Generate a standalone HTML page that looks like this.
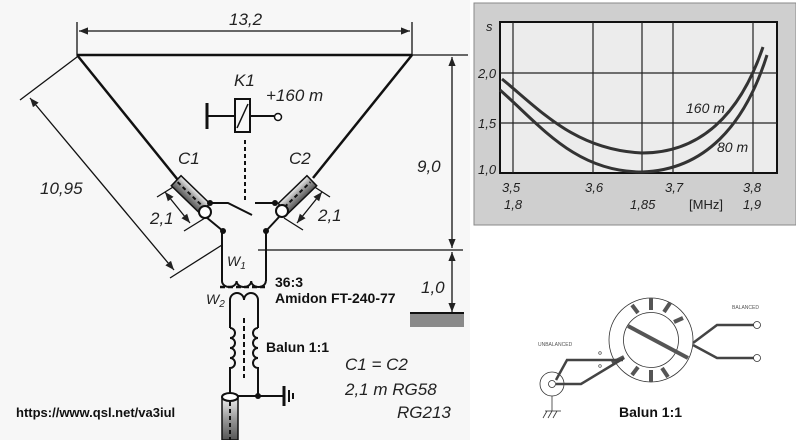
<!DOCTYPE html>
<html><head><meta charset="utf-8"><style>
html,body{margin:0;padding:0;background:#fff;}
svg{display:block;}
text{font-family:"Liberation Sans",sans-serif;}
</style></head><body>
<svg width="796" height="440" viewBox="0 0 796 440" xmlns="http://www.w3.org/2000/svg">
<defs>
<marker id="ar" viewBox="0 0 10 10" refX="10" refY="5" markerWidth="7" markerHeight="7" orient="auto-start-reverse"><path d="M0,1 L10,5 L0,9 z" fill="#222"/></marker>
<linearGradient id="cx" x1="0" y1="0" x2="0" y2="1"><stop offset="0" stop-color="#eee"/><stop offset="0.5" stop-color="#999"/><stop offset="1" stop-color="#555"/></linearGradient>
</defs>
<rect x="0" y="0" width="470" height="440" fill="#f7f7f7"/>
<g stroke="#111" fill="none" stroke-width="1.3">
<!-- top dim -->
<line x1="77" y1="22" x2="77" y2="55"/><line x1="412" y1="22" x2="412" y2="55"/>
<line x1="79" y1="31" x2="410" y2="31" marker-start="url(#ar)" marker-end="url(#ar)"/>
<!-- antenna -->
<line x1="77" y1="55" x2="412" y2="55" stroke-width="2.5"/>
<line x1="77" y1="55" x2="178" y2="180" stroke-width="2.5"/>
<line x1="412" y1="55" x2="313" y2="178" stroke-width="2.5"/>
<line x1="412" y1="55" x2="468" y2="55"/>
<!-- right dims -->
<line x1="452" y1="57" x2="452" y2="248" marker-start="url(#ar)" marker-end="url(#ar)"/>
<line x1="258" y1="250" x2="463" y2="250"/>
<line x1="452" y1="252" x2="452" y2="312" marker-start="url(#ar)" marker-end="url(#ar)"/>
<!-- left dim 10,95 -->
<line x1="77" y1="57" x2="20" y2="100"/>
<line x1="222" y1="245" x2="170" y2="278"/>
<line x1="30" y1="98" x2="174" y2="270" marker-start="url(#ar)" marker-end="url(#ar)"/>
<!-- 2,1 dims -->
<line x1="178" y1="184" x2="157" y2="197"/><line x1="205" y1="218" x2="184" y2="231"/>
<line x1="165" y1="192" x2="190" y2="223" marker-start="url(#ar)" marker-end="url(#ar)"/>
<line x1="310" y1="184" x2="330" y2="197"/><line x1="284" y1="218" x2="303" y2="230"/>
<line x1="322" y1="192" x2="297" y2="223" marker-start="url(#ar)" marker-end="url(#ar)"/>
<!-- relay -->
<rect x="235" y="99" width="15" height="33" stroke-width="2"/>
<line x1="237" y1="128" x2="248" y2="104" stroke-width="1.5"/>
<line x1="207" y1="116" x2="235" y2="116" stroke-width="2"/>
<line x1="207" y1="103" x2="207" y2="129" stroke-width="3"/>
<line x1="250" y1="116" x2="274" y2="116" stroke-width="2"/>
<circle cx="278" cy="117" r="3.5" stroke-width="1.5" fill="#fff"/>
<line x1="245" y1="140" x2="245" y2="200" stroke-width="2" stroke-dasharray="4,3"/>
<!-- switch -->
<polyline points="210,203 228,203 252,215" stroke-width="2"/>
<line x1="255" y1="203" x2="275" y2="203" stroke-width="2"/>
<line x1="206" y1="217" x2="223" y2="231" stroke-width="2"/>
<line x1="279" y1="217" x2="266" y2="231" stroke-width="2"/>
<!-- W1 -->
<path d="M222,231 V281 M266,231 V281 M222,281 a7.3,6 0 0 0 14.6,0 a7.3,6 0 0 0 14.6,0 a7.3,6 0 0 0 14.6,0" stroke-width="2"/>
<line x1="220" y1="287" x2="266" y2="287" stroke-width="2.5" stroke-dasharray="5,3"/>
<!-- W2 -->
<path d="M230,310 V300 a7,7 0 0 1 14,0 a7,7 0 0 1 14,0 V310" stroke-width="2"/>
<path d="M230,310 V328 M258,310 V328" stroke-width="2"/>
<!-- balun coils -->
<path d="M230,328 a5,5 0 0 1 0,10 a5,5 0 0 1 0,10 a5,5 0 0 1 0,10 a5,5 0 0 1 0,10 V395" stroke-width="2"/>
<path d="M258,328 a5,5 0 0 0 0,10 a5,5 0 0 0 0,10 a5,5 0 0 0 0,10 a5,5 0 0 0 0,10 V395" stroke-width="2"/>
<line x1="244" y1="318" x2="244" y2="378" stroke-width="2" stroke-dasharray="5,3"/>
<line x1="230" y1="396" x2="284" y2="396" stroke-width="2"/>
<line x1="284" y1="386" x2="284" y2="406" stroke-width="3"/>
<line x1="289" y1="390" x2="289" y2="402" stroke-width="2"/>
<line x1="293" y1="393" x2="293" y2="399" stroke-width="2"/>
</g>
<!-- coax C1 C2 -->
<g transform="translate(192,196) rotate(44)"><rect x="-22" y="-7" width="40" height="14" fill="url(#cx)" stroke="#111" stroke-width="1.5"/><line x1="-20" y1="0" x2="16" y2="0" stroke="#111" stroke-width="2" stroke-dasharray="4,3"/></g>
<g transform="translate(296,196) rotate(-44)"><rect x="-18" y="-7" width="40" height="14" fill="url(#cx)" stroke="#111" stroke-width="1.5"/><line x1="-16" y1="0" x2="20" y2="0" stroke="#111" stroke-width="2" stroke-dasharray="4,3"/></g>
<circle cx="205" cy="212" r="6" fill="#fff" stroke="#111" stroke-width="2"/>
<circle cx="282" cy="211" r="6" fill="#fff" stroke="#111" stroke-width="2"/>
<g fill="#111"><circle cx="210" cy="203" r="3"/><circle cx="275" cy="203" r="3"/><circle cx="223" cy="231" r="3"/><circle cx="266" cy="231" r="3"/><circle cx="258" cy="396" r="3"/></g>
<!-- bottom coax -->
<rect x="222" y="398" width="16" height="42" fill="url(#cx)" stroke="#111" stroke-width="1.5"/>
<line x1="230" y1="402" x2="230" y2="440" stroke="#111" stroke-width="2" stroke-dasharray="4,3"/>
<ellipse cx="230" cy="397" rx="8" ry="4" fill="#fff" stroke="#111" stroke-width="2"/>
<!-- ground hatch -->
<rect x="410" y="313" width="54" height="14" fill="#8a8a8a"/>
<line x1="410" y1="313" x2="464" y2="313" stroke="#111" stroke-width="2"/>
<!-- labels -->
<g font-style="italic" fill="#222" font-size="17">
<text x="229" y="25">13,2</text>
<text x="40" y="194">10,95</text>
<text x="417" y="172">9,0</text>
<text x="421" y="293">1,0</text>
<text x="150" y="224">2,1</text>
<text x="318" y="221">2,1</text>
<text x="234" y="86">K1</text>
<text x="266" y="101">+160 m</text>
<text x="178" y="164">C1</text>
<text x="289" y="164">C2</text>
<text x="227" y="266" font-size="14">W<tspan font-size="10" dy="3">1</tspan></text>
<text x="206" y="304" font-size="14">W<tspan font-size="10" dy="3">2</tspan></text>
<text x="345" y="370">C1 = C2</text>
<text x="345" y="395">2,1 m RG58</text>
<text x="397" y="418">RG213</text>
</g>
<g fill="#111" font-size="14" font-weight="bold">
<text x="275" y="287">36:3</text>
<text x="275" y="303">Amidon FT-240-77</text>
<text x="266" y="352">Balun 1:1</text>
<text x="16" y="417" font-size="13">https://www.qsl.net/va3iul</text>
</g>
<!-- chart -->
<rect x="474" y="3" width="322" height="222" fill="#cfcfcf" stroke="#888"/>
<rect x="500" y="22" width="277" height="151" fill="#ececec" stroke="#111" stroke-width="2"/>
<g stroke="#222" stroke-width="1.2">
<line x1="513" y1="22" x2="513" y2="173"/><line x1="593" y1="22" x2="593" y2="173"/>
<line x1="642" y1="22" x2="642" y2="173"/><line x1="673" y1="22" x2="673" y2="173"/>
<line x1="753" y1="22" x2="753" y2="173"/>
<line x1="500" y1="73" x2="777" y2="73"/><line x1="500" y1="123" x2="777" y2="123"/>
</g>
<g fill="none" stroke="#333" stroke-width="3">
<path d="M502,79 C540,110 575,150 642,153 C700,153 740,115 763,47"/>
<path d="M500,90 C540,125 575,172 642,172 C705,170 745,125 767,55"/>
</g>
<g font-style="italic" fill="#222" font-size="13">
<text x="486" y="31">s</text>
<text x="478" y="78">2,0</text><text x="478" y="128">1,5</text><text x="478" y="174">1,0</text>
<text x="502" y="192">3,5</text><text x="585" y="192">3,6</text><text x="665" y="192">3,7</text><text x="743" y="192">3,8</text>
<text x="504" y="209">1,8</text><text x="630" y="209">1,85</text><text x="743" y="209">1,9</text>
<text x="686" y="113" font-size="14">160 m</text><text x="717" y="152" font-size="14">80 m</text>
</g>
<text x="689" y="209" font-size="13" fill="#222">[MHz]</text>
<!-- balun drawing -->
<g fill="none" stroke="#333">
<circle cx="651" cy="340" r="42" stroke-width="0.8"/>
<circle cx="651" cy="340" r="27.5" stroke-width="0.8"/>
<circle cx="552" cy="384" r="12" stroke-width="0.8"/>
<circle cx="552" cy="384" r="3.5" stroke-width="0.8"/>
<g stroke-width="4" stroke="#555">
<line x1="632" y1="305" x2="638" y2="313"/><line x1="651" y1="298" x2="651" y2="310"/>
<line x1="670" y1="303" x2="664" y2="312"/><line x1="683" y1="318" x2="674" y2="322"/>
<line x1="632" y1="375" x2="638" y2="367"/><line x1="651" y1="382" x2="651" y2="370"/>
<line x1="668" y1="377" x2="662" y2="368"/>
<line x1="628" y1="326" x2="688" y2="358"/>
<line x1="624" y1="357" x2="612" y2="363"/>
</g>
<g stroke-width="2.5" stroke="#444">
<polyline points="556,384 581,384 624,358"/>
<polyline points="556,380 567,360 623,360"/>
<polyline points="693,343 717,325 756,325"/>
<polyline points="693,345 717,358 756,358"/>
</g>
<circle cx="757" cy="325" r="3.5" fill="#fff" stroke-width="0.8"/>
<circle cx="757" cy="358" r="3.5" fill="#fff" stroke-width="0.8"/>
<circle cx="600" cy="353" r="1.3" stroke-width="0.6"/><circle cx="600" cy="366" r="1.3" stroke-width="0.6"/>
<g stroke-width="0.8"><line x1="552" y1="396" x2="552" y2="411"/><line x1="545" y1="411" x2="561" y2="411"/>
<line x1="547" y1="411" x2="543" y2="418"/><line x1="552" y1="411" x2="548" y2="418"/><line x1="557" y1="411" x2="553" y2="418"/></g>
</g>
<text x="538" y="346" font-size="5" fill="#555">UNBALANCED</text>
<text x="732" y="309" font-size="5" fill="#555">BALANCED</text>
<text x="619" y="417" font-size="14" font-weight="bold" fill="#111">Balun 1:1</text>
</svg>
</body></html>
